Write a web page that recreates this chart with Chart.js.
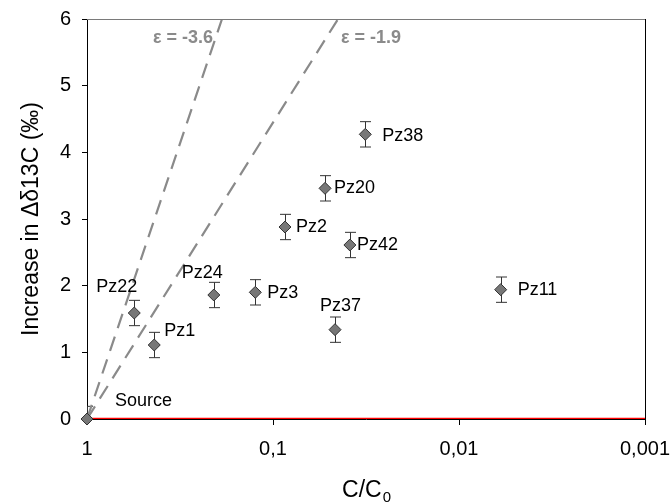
<!DOCTYPE html>
<html>
<head>
<meta charset="utf-8">
<script src="https://cdn.jsdelivr.net/npm/chart.js@4"></script>
<style>
html,body{margin:0;padding:0;background:#fff;}
#wrap{width:672px;height:504px;position:relative;}
</style>
</head>
<body>
<div id="wrap"><canvas id="c" width="672" height="504"></canvas></div>
<script>
// ---- data ----
const sampleNames = ["Source","Pz22","Pz1","Pz24","Pz3","Pz37","Pz42","Pz2","Pz20","Pz38","Pz11"];
const ratioC = [1, 0.557, 0.435, 0.208, 0.1245, 0.0464, 0.0386, 0.0862, 0.0525, 0.0319, 0.00597];
const deltaIncrease = [0, 1.59, 1.11, 1.86, 1.90, 1.34, 2.61, 2.88, 3.46, 4.27, 1.94];
const deltaError = [0.19, 0.19, 0.19, 0.19, 0.19, 0.19, 0.19, 0.19, 0.19, 0.19, 0.19];
const eps36Line = [{x:1, y:0}, {x:0.188, y:6}];
const eps19Line = [{x:1, y:0}, {x:0.0447, y:6}];
const baseLine = [{x:1, y:0}, {x:0.001, y:0}];
const xTickValues = [1, 0.1, 0.01, 0.001];
const yTickValues = [0, 1, 2, 3, 4, 5, 6];
const epsLabels = ["ε = -3.6", "ε = -1.9"];

// ---- label placement (px offsets from the point) ----
const labelOffsets = [[28,-18],[-38,-26],[10,-14],[-32,-22],[12,1],[-15,-24],[7,0],[11,0],[9,0],[17,2],[17,0]];

const FONT = '"Liberation Sans", Arial, sans-serif';

const points = ratioC.map((x, i) => ({x: x, y: deltaIncrease[i]}));

const errorBars = {
  id: 'errorBars',
  beforeDatasetsDraw(chart) {
    const {ctx, chartArea: a, scales: {x, y}} = chart;
    ctx.save();
    ctx.beginPath();
    ctx.rect(a.left, a.top, a.right - a.left, a.bottom - a.top);
    ctx.clip();
    ctx.strokeStyle = '#333';
    ctx.lineWidth = 1;
    ratioC.forEach((v, i) => {
      const px = Math.round(x.getPixelForValue(v)) + 0.5;
      const y1 = y.getPixelForValue(deltaIncrease[i] + deltaError[i]);
      const y2 = y.getPixelForValue(deltaIncrease[i] - deltaError[i]);
      ctx.beginPath();
      ctx.moveTo(px, y1); ctx.lineTo(px, y2);
      ctx.moveTo(px - 5.5, y1); ctx.lineTo(px + 5.5, y1);
      ctx.moveTo(px - 5.5, y2); ctx.lineTo(px + 5.5, y2);
      ctx.stroke();
    });
    ctx.restore();
  }
};

const decorations = {
  id: 'decorations',
  afterDraw(chart) {
    const {ctx, chartArea: a, scales: {x, y}} = chart;
    ctx.save();
    // frame: top grey, right black
    ctx.lineWidth = 1;
    ctx.strokeStyle = '#7a7a7a';
    ctx.beginPath(); ctx.moveTo(a.left, a.top + 0.5); ctx.lineTo(a.right, a.top + 0.5); ctx.stroke();
    ctx.strokeStyle = '#000';
    ctx.beginPath(); ctx.moveTo(a.right + 0.5, a.top); ctx.lineTo(a.right + 0.5, a.bottom + 6); ctx.stroke();

    // point labels
    ctx.fillStyle = '#000';
    ctx.font = '18px ' + FONT;
    ctx.textAlign = 'left';
    ctx.textBaseline = 'middle';
    sampleNames.forEach((n, i) => {
      const px = x.getPixelForValue(ratioC[i]);
      const py = y.getPixelForValue(deltaIncrease[i]);
      ctx.fillText(n, px + labelOffsets[i][0], py + labelOffsets[i][1]);
    });

    // epsilon labels
    ctx.fillStyle = '#8a8a8a';
    ctx.font = 'bold 18px ' + FONT;
    ctx.textAlign = 'right';
    const e1 = x.getPixelForValue(eps36Line[1].x);
    ctx.fillText(epsLabels[0], e1 - 9, a.top + 19);
    ctx.textAlign = 'left';
    const e2 = x.getPixelForValue(eps19Line[1].x);
    ctx.fillText(epsLabels[1], e2 + 3, a.top + 19);

    // axis titles
    ctx.fillStyle = '#000';
    ctx.font = '23px ' + FONT;
    ctx.save();
    ctx.translate(32, (a.top + a.bottom) / 2);
    ctx.rotate(-Math.PI / 2);
    ctx.textAlign = 'center';
    ctx.textBaseline = 'middle';
    ctx.fillText('Increase in Δδ13C (‰)', 0, 0);
    ctx.restore();

    const main = 'C/C';
    const sub = '0';
    ctx.font = '23px ' + FONT;
    const w1 = ctx.measureText(main).width;
    ctx.font = '15px ' + FONT;
    const w2 = ctx.measureText(sub).width;
    const cx = (a.left + a.right) / 2;
    const startX = cx - (w1 + w2) / 2;
    ctx.textAlign = 'left';
    ctx.textBaseline = 'alphabetic';
    ctx.font = '23px ' + FONT;
    ctx.fillText(main, startX, 497);
    ctx.font = '15px ' + FONT;
    ctx.fillText(sub, startX + w1 + 1, 502);
    ctx.restore();
  }
};

new Chart(document.getElementById('c'), {
  type: 'scatter',
  data: {
    datasets: [
      {
        label: 'Samples',
        data: points,
        pointStyle: 'rectRot',
        pointRadius: 6,
        pointHoverRadius: 6,
        backgroundColor: '#777777',
        borderColor: '#333333',
        borderWidth: 1,
        clip: false
      },
      {
        label: 'Source level',
        data: baseLine,
        showLine: true,
        borderColor: '#ff0000',
        borderWidth: 2.5,
        pointRadius: 0,
        fill: false
      },
      {
        label: 'eps -3.6',
        data: eps36Line,
        showLine: true,
        borderColor: '#8a8a8a',
        borderWidth: 2.2,
        borderDash: [15, 9],
        pointRadius: 0,
        fill: false
      },
      {
        label: 'eps -1.9',
        data: eps19Line,
        showLine: true,
        borderColor: '#8a8a8a',
        borderWidth: 2.2,
        borderDash: [15, 9],
        pointRadius: 0,
        fill: false
      }
    ]
  },
  options: {
    responsive: false,
    animation: false,
    events: [],
    layout: {padding: {top: 19, right: 27, left: 0, bottom: 0}},
    plugins: {legend: {display: false}, tooltip: {enabled: false}},
    scales: {
      x: {
        type: 'logarithmic',
        reverse: true,
        min: 0.001,
        max: 1,
        afterBuildTicks(scale) { scale.ticks = xTickValues.map(v => ({value: v})); },
        afterFit(scale) { scale.height = 85; scale.paddingLeft = 0; scale.paddingRight = 0; },
        grid: {display: true, drawOnChartArea: false, drawTicks: true, tickLength: 6, color: '#000'},
        border: {display: true, color: '#000', width: 1},
        ticks: {
          autoSkip: false,
          maxRotation: 0,
          color: '#000',
          padding: 12,
          font: {family: FONT, size: 20},
          callback: (v) => String(v).replace('.', ',')
        },
        title: {display: false}
      },
      y: {
        type: 'linear',
        min: 0,
        max: 6,
        afterBuildTicks(scale) { scale.ticks = yTickValues.map(v => ({value: v})); },
        afterFit(scale) { scale.width = 87; scale.paddingTop = 0; scale.paddingBottom = 0; },
        grid: {display: true, drawOnChartArea: false, drawTicks: true, tickLength: 5, color: '#000'},
        border: {display: true, color: '#000', width: 1},
        ticks: {
          color: '#000',
          padding: 11,
          font: {family: FONT, size: 20}
        },
        title: {display: false}
      }
    }
  },
  plugins: [errorBars, decorations]
});
</script>
</body>
</html>
